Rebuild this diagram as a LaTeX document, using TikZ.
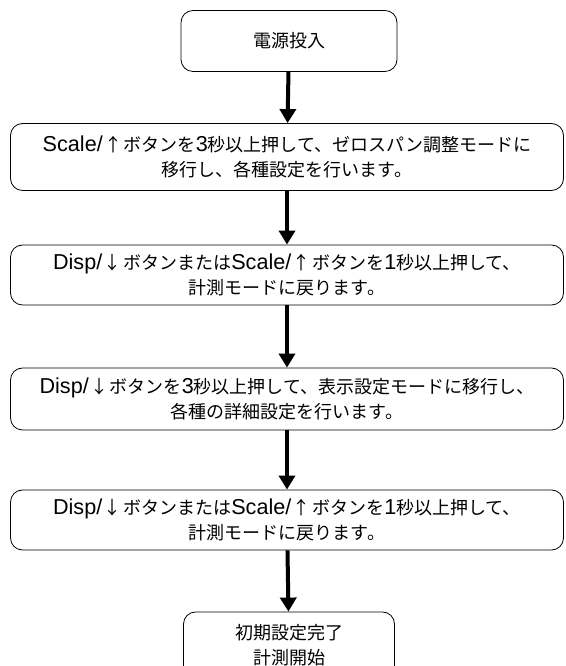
\documentclass[tikz,border=0pt]{standalone}
\usepackage{fontspec}
\setmainfont{Noto Sans CJK JP}
\newfontfamily\lat[Scale=1.2]{Liberation Sans}
\newcommand\up{\kern1.5pt↑\kern1.5pt}
\newcommand\dn{\kern1.5pt↓\kern1.5pt}
\usetikzlibrary{arrows.meta}

\begin{document}
\begin{tikzpicture}[x=1pt,y=1pt,
  box/.style={draw, rounded corners=12pt, line width=0.8pt, align=center,
    inner sep=0pt, font=\fontsize{18}{25}\selectfont},
  flow/.style={line width=4pt, -{Triangle[width=16pt,length=14pt]}}]
\useasboundingbox (0,0) rectangle (565,666);
\node[box, minimum width=216pt, minimum height=61pt] (power) at (289,625) {電源投入};
\node[box, minimum width=553pt, minimum height=67pt] (zerospan) at (287,509) {{\lat Scale/}\up ボタンを{\lat 3}秒以上押して、ゼロスパン調整モードに\\移行し、各種設定を行います。};
\node[box, minimum width=553pt, minimum height=60pt] (back1) at (287,391) {{\lat Disp/}\dn ボタンまたは{\lat Scale/}\up ボタンを{\lat 1}秒以上押して、\\計測モードに戻ります。};
\node[box, minimum width=553pt, minimum height=62pt] (disp) at (287,267) {{\lat Disp/}\dn ボタンを{\lat 3}秒以上押して、表示設定モードに移行し、\\各種の詳細設定を行います。};
\node[box, minimum width=553pt, minimum height=60pt] (back2) at (287,146) {{\lat Disp/}\dn ボタンまたは{\lat Scale/}\up ボタンを{\lat 1}秒以上押して、\\計測モードに戻ります。};
\node[box, minimum width=211pt, minimum height=66pt] (done) at (289,21) {初期設定完了\\計測開始};
% arrows
\draw[flow] (power) -- (zerospan);
\draw[flow] (zerospan) -- (back1);
\draw[flow] (back1) -- (disp);
\draw[flow] (disp) -- (back2);
\draw[flow] (back2) -- (done);
\end{tikzpicture}
\end{document}
